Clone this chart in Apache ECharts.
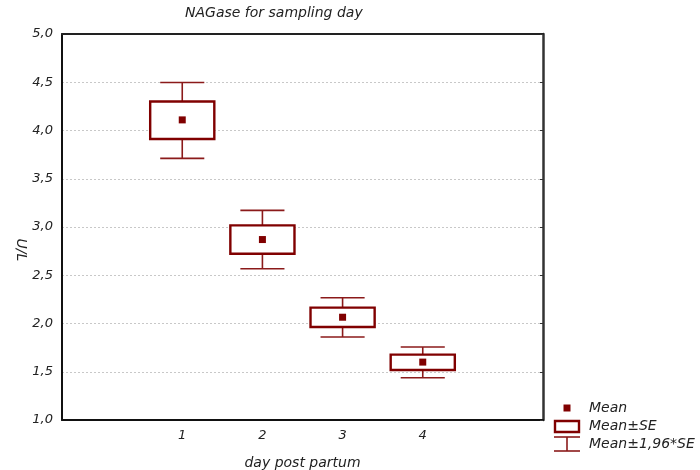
<!DOCTYPE html>
<html>
<head>
<meta charset="utf-8">
<title>NAGase for sampling day</title>
<script src="https://cdn.jsdelivr.net/npm/echarts@6/dist/echarts.min.js"></script>
<style>
  html, body { margin: 0; padding: 0; background: #fff; }
  #chart { width: 700px; height: 470px; }
</style>
</head>
<body>
<div id="chart"></div>
<script>
// Days post partum (empty slots are the unlabelled outer ticks)
const categories = ['', '1', '2', '3', '4', ''];
const dayIndex = [1, 2, 3, 4];

// NAGase activity, U/L
const meanValues = [4.11, 2.87, 2.065, 1.60];
const seLow  = [3.912, 2.723, 1.964, 1.518];
const seHigh = [4.300, 3.017, 2.164, 1.677];
const ciLow  = [3.711, 2.568, 1.860, 1.438];
const ciHigh = [4.498, 3.172, 2.267, 1.756];

// Value axis ticks
const yMin = 1.0;
const yMax = 5.0;
const yStep = 0.5;

const MAROON = '#800000';
const WHISKER = '#8b1a1a';
const FONT = '"DejaVu Sans", "Liberation Sans", sans-serif';

const boxData = dayIndex.map((d, i) => [d, meanValues[i], seLow[i], seHigh[i], ciLow[i], ciHigh[i]]);

function commaLabel(v) {
  return Number(v).toFixed(1).replace('.', ',');
}

function renderBox(params, api) {
  const x = api.value(0);
  const pMean = api.coord([x, api.value(1)]);
  const pSeLo = api.coord([x, api.value(2)]);
  const pSeHi = api.coord([x, api.value(3)]);
  const pCiLo = api.coord([x, api.value(4)]);
  const pCiHi = api.coord([x, api.value(5)]);
  const band = api.size([1, 0])[0];
  const cx = pMean[0];
  const boxW = band * 0.8;
  const capW = band * 0.55;
  const lineStyle = { stroke: WHISKER, lineWidth: 1.6, fill: null };
  return {
    type: 'group',
    children: [
      { type: 'line', shape: { x1: cx - capW / 2, y1: pCiHi[1], x2: cx + capW / 2, y2: pCiHi[1] }, style: lineStyle },
      { type: 'line', shape: { x1: cx, y1: pCiHi[1], x2: cx, y2: pSeHi[1] }, style: lineStyle },
      { type: 'line', shape: { x1: cx, y1: pSeLo[1], x2: cx, y2: pCiLo[1] }, style: lineStyle },
      { type: 'line', shape: { x1: cx - capW / 2, y1: pCiLo[1], x2: cx + capW / 2, y2: pCiLo[1] }, style: lineStyle },
      {
        type: 'rect',
        shape: { x: cx - boxW / 2, y: pSeHi[1], width: boxW, height: pSeLo[1] - pSeHi[1] },
        style: { stroke: MAROON, lineWidth: 2.4, fill: '#fff' }
      },
      {
        type: 'rect',
        shape: { x: cx - 3.5, y: pMean[1] - 3.5, width: 7, height: 7 },
        style: { fill: MAROON }
      }
    ]
  };
}

const textStyle = { fontFamily: FONT, fontStyle: 'italic', color: '#222' };

const chart = echarts.init(document.getElementById('chart'), null, { renderer: 'canvas' });

chart.setOption({
  animation: false,
  backgroundColor: '#fff',
  title: {
    text: 'NAGase for sampling day',
    left: 185,
    top: 6,
    padding: 0,
    textStyle: { fontFamily: FONT, fontStyle: 'italic', fontWeight: 'normal', fontSize: 14, color: '#222' }
  },
  grid: { left: 62, right: 157, top: 34, bottom: 50, outerBoundsMode: 'none' },
  xAxis: [
    {
      type: 'category',
      position: 'bottom',
      data: categories,
      boundaryGap: true,
      name: 'day post partum',
      nameLocation: 'middle',
      nameGap: 36,
      nameTextStyle: Object.assign({ fontSize: 14 }, textStyle),
      axisLine: { lineStyle: { color: '#111', width: 2 } },
      axisTick: { inside: true, length: 3, alignWithLabel: true, lineStyle: { color: '#111' } },
      axisLabel: Object.assign({ fontSize: 13, margin: 9, interval: 0 }, textStyle),
      splitLine: { show: false }
    },
    {
      type: 'category',
      position: 'top',
      data: categories,
      boundaryGap: true,
      axisLine: { lineStyle: { color: '#222', width: 2 } },
      axisTick: { inside: true, length: 3, alignWithLabel: true, lineStyle: { color: '#222' } },
      axisLabel: { show: false },
      splitLine: { show: false }
    }
  ],
  yAxis: [
    {
      type: 'value',
      position: 'left',
      min: yMin,
      max: yMax,
      interval: yStep,
      axisLine: { show: true, lineStyle: { color: '#111', width: 2 } },
      axisTick: { show: false },
      axisLabel: Object.assign({ fontSize: 13, margin: 9, formatter: commaLabel }, textStyle),
      splitLine: { show: true, lineStyle: { color: '#c8c8c8', width: 1, type: [2, 2] } }
    },
    {
      type: 'value',
      position: 'right',
      min: yMin,
      max: yMax,
      interval: yStep,
      axisLine: { show: true, lineStyle: { color: '#333', width: 2.5 } },
      axisTick: { show: true, inside: true, length: 3, lineStyle: { color: '#333' } },
      axisLabel: { show: false },
      splitLine: { show: false }
    }
  ],
  series: [
    {
      name: 'NAGase',
      type: 'custom',
      xAxisIndex: 0,
      yAxisIndex: 0,
      renderItem: renderBox,
      encode: { x: 0, y: [1, 2, 3, 4, 5] },
      data: boxData,
      clip: false,
      silent: true
    }
  ],
  graphic: [
    {
      type: 'text',
      x: 21,
      y: 250,
      rotation: -Math.PI / 2,
      style: {
        text: 'U/L',
        font: 'italic 14px ' + FONT,
        fill: '#222',
        align: 'center',
        verticalAlign: 'middle'
      }
    },
    // key: mean marker
    { type: 'rect', shape: { x: 563.5, y: 404.5, width: 7, height: 7 }, style: { fill: MAROON } },
    { type: 'text', x: 589, y: 408, style: { text: 'Mean', font: 'italic 14px ' + FONT, fill: '#222', verticalAlign: 'middle' } },
    // key: standard-error box
    { type: 'rect', shape: { x: 555, y: 421, width: 24, height: 11 }, style: { stroke: MAROON, lineWidth: 2.4, fill: '#fff' } },
    { type: 'text', x: 589, y: 426, style: { text: 'Mean±SE', font: 'italic 14px ' + FONT, fill: '#222', verticalAlign: 'middle' } },
    // key: 1.96*SE whisker
    { type: 'line', shape: { x1: 554, y1: 437, x2: 580, y2: 437 }, style: { stroke: WHISKER, lineWidth: 1.6 } },
    { type: 'line', shape: { x1: 567, y1: 437, x2: 567, y2: 451 }, style: { stroke: WHISKER, lineWidth: 1.6 } },
    { type: 'line', shape: { x1: 554, y1: 451, x2: 580, y2: 451 }, style: { stroke: WHISKER, lineWidth: 1.6 } },
    { type: 'text', x: 589, y: 444, style: { text: 'Mean±1,96*SE', font: 'italic 14px ' + FONT, fill: '#222', verticalAlign: 'middle' } }
  ]
});
</script>
</body>
</html>
